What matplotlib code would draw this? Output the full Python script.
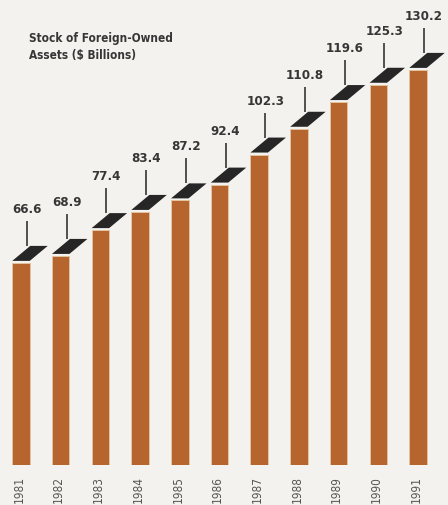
import matplotlib
matplotlib.use("Agg")
import matplotlib.pyplot as plt
from matplotlib import font_manager as fm
from matplotlib.patches import Polygon

years = ["1981", "1982", "1983", "1984", "1985", "1986", "1987", "1988", "1989", "1990", "1991"]
values = [66.6, 68.9, 77.4, 83.4, 87.2, 92.4, 102.3, 110.8, 119.6, 125.3, 130.2]
value_labels = ["66.6", "68.9", "77.4", "83.4", "87.2", "92.4", "102.3", "110.8", "119.6", "125.3", "130.2"]
title_text = "Stock of Foreign-Owned\nAssets ($ Billions)"

names = {f.name for f in fm.fontManager.ttflist}
font_kw = {}
if "Liberation Sans Narrow" in names:
    font_kw = dict(family="Liberation Sans Narrow")
else:
    cond = [f for f in fm.fontManager.ttflist if f.name == "DejaVu Sans" and "ondensed" in f.fname]
    if cond:
        font_kw = dict(family="DejaVu Sans", fontstretch="condensed")
    else:
        font_kw = dict(family="Roboto")

W, H = 448, 505
fig = plt.figure(figsize=(W / 100, H / 100), dpi=100)
bg = "#f3f2ee"
fig.patch.set_facecolor(bg)

spacing = (418 - 21) / 10.0
left_px = 21 - 0.5 * spacing
ax = fig.add_axes([left_px / W, 40 / H, 11 * spacing / W, 465 / H])
ax.set_facecolor(bg)
px_per_unit = (263 - 70) / (130.2 - 66.6)
ax.set_xlim(-0.5, 10.5)
ax.set_ylim(0, 465 / px_per_unit)
ax.axis("off")

bar_w = 17.5 / spacing
dx = 18 / spacing
dy = 15 / px_per_unit
gap = 2 / px_per_unit
tick_len = 25 / px_per_unit
tick_off = 6 / spacing

xs = list(range(len(years)))
ax.bar(xs, values, width=bar_w, color="#b6652f", edgecolor="#e6c3a0", linewidth=0.7)

text_color = "#363636"
for x, v, lab in zip(xs, values, value_labels):
    y0 = v + gap
    poly = Polygon([(x - bar_w / 2, y0), (x + bar_w / 2, y0),
                    (x + bar_w / 2 + dx, y0 + dy), (x - bar_w / 2 + dx, y0 + dy)],
                   closed=True, facecolor="#262626", edgecolor="none", clip_on=False)
    ax.add_patch(poly)
    tx = x + tick_off
    ax.plot([tx, tx], [y0 + dy, y0 + dy + tick_len], color="#444444", lw=1.3,
            solid_capstyle="butt", clip_on=False)
    ax.text(tx, y0 + dy + tick_len + 5 / px_per_unit, lab, ha="center", va="bottom",
            fontsize=9.5, color=text_color, fontweight="bold", **font_kw)

for x, yr in zip(xs, years):
    ax.text(x - 2 / spacing, -11 / px_per_unit, yr, rotation=90, ha="center", va="top",
            fontsize=8.5, color="#555555", **font_kw)

fig.text(29 / W, 1 - 32 / H, title_text, ha="left", va="top", fontsize=8.5,
         color=text_color, fontweight="bold", linespacing=1.35, **font_kw)

fig.savefig("out.png", dpi=100, facecolor=bg)
